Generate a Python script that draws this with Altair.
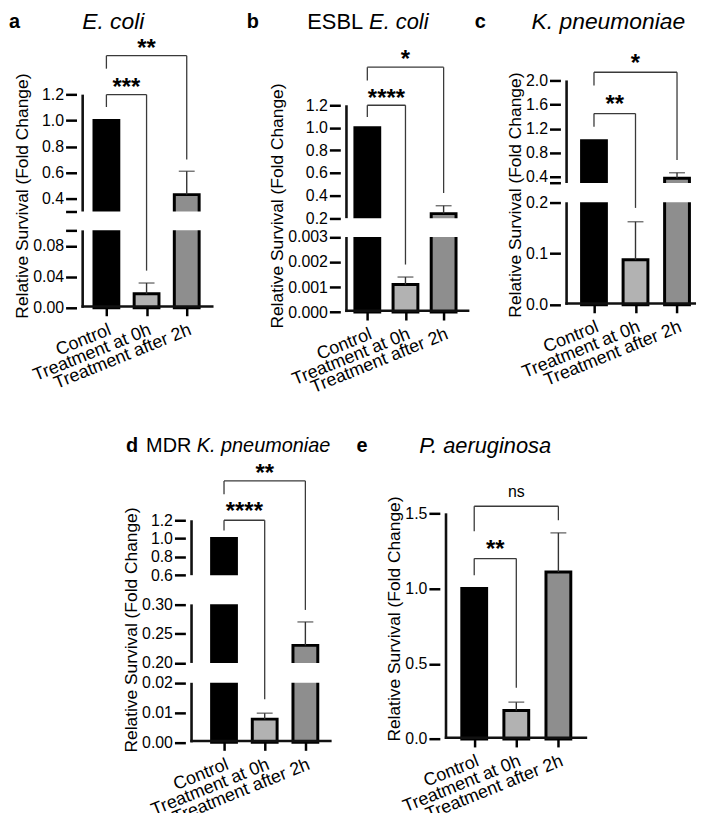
import altair as alt
import pandas as pd

FONT = "Liberation Sans"

categories = ["Control", "Treatment at 0h", "Treatment after 2h"]
positions = [1, 2, 3]
bar_fills = ["#000000", "#b2b2b2", "#8e8e8e"]
y_title = "Relative Survival (Fold Change)"

# ---------------- panel a : E. coli
a_mean = [1.0, 0.018, 0.43]
a_err = [None, 0.032, 0.61]
a_ticks = [0.0, 0.04, 0.08, 0.1, 0.3, 0.4, 0.6, 0.8, 1.0, 1.2]
a_tick_labels = ["0.00", "0.04", "0.08", "", "", "0.4", "0.6", "0.8", "1.0", "1.2"]
a_segments = [(0.0, 0.1), (0.3, 1.2)]
a_sig_g1 = [1, 1]
a_sig_g2 = [2, 3]
a_sig_bar = [1.2, 1.50]
a_sig_left = [1.105, 1.40]
a_sig_right = [0.048, 0.70]
a_sig_texty = [1.30, 1.60]
a_sig_text = ["***", "**"]

# ---------------- panel b : ESBL E. coli
b_mean = [1.0, 0.0011, 0.24]
b_err = [None, 0.0014, 0.31]
b_ticks = [0.0, 0.001, 0.002, 0.003, 0.2, 0.4, 0.6, 0.8, 1.0, 1.2]
b_tick_labels = ["0.000", "0.001", "0.002", "0.003", "0.2", "0.4", "0.6", "0.8", "1.0", "1.2"]
b_segments = [(0.0, 0.003), (0.2, 1.2)]
b_sig_g1 = [1, 1]
b_sig_g2 = [2, 3]
b_sig_bar = [1.2, 1.537]
b_sig_left = [1.097, 1.42]
b_sig_right = [0.0019, 0.423]
b_sig_texty = [1.31, 1.655]
b_sig_text = ["****", "*"]

# ---------------- panel c : K. pneumoniae
c_mean = [1.0, 0.088, 0.38]
c_err = [None, 0.162, 0.47]
c_ticks = [0.0, 0.1, 0.2, 0.3, 0.4, 0.8, 1.2, 1.6, 2.0]
c_tick_labels = ["0.0", "0.1", "0.2", "", "0.4", "0.8", "1.2", "1.6", "2.0"]
c_segments = [(0.0, 0.2), (0.3, 2.0)]
c_sig_g1 = [1, 1]
c_sig_g2 = [2, 3]
c_sig_bar = [1.451, 2.136]
c_sig_left = [1.231, 1.917]
c_sig_right = [0.189, 0.683]
c_sig_texty = [1.698, 2.366]
c_sig_text = ["**", "*"]

# ---------------- panel d : MDR K. pneumoniae
d_mean = [1.0, 0.0078, 0.23]
d_err = [None, 0.0098, 0.27]
d_ticks = [0.0, 0.01, 0.02, 0.2, 0.25, 0.3, 0.6, 0.8, 1.0, 1.2]
d_tick_labels = ["0.00", "0.01", "0.02", "0.20", "0.25", "0.30", "0.6", "0.8", "1.0", "1.2"]
d_segments = [(0.0, 0.02), (0.2, 0.3), (0.6, 1.2)]
d_sig_g1 = [1, 1]
d_sig_g2 = [2, 3]
d_sig_bar = [1.2, 1.63]
d_sig_left = [1.088, 1.485]
d_sig_right = [0.0145, 0.2905]
d_sig_texty = [1.359, 1.775]
d_sig_text = ["****", "**"]

# ---------------- panel e : P. aeruginosa
e_mean = [1.0, 0.19, 1.11]
e_err = [None, 0.245, 1.37]
e_ticks = [0.0, 0.5, 1.0, 1.5]
e_tick_labels = ["0.0", "0.5", "1.0", "1.5"]
e_segments = [(0.0, 1.5)]
e_sig_g1 = [1, 1]
e_sig_g2 = [2, 3]
e_sig_bar = [1.199, 1.547]
e_sig_left = [1.089, 1.38]
e_sig_right = [0.341, 1.454]
e_sig_texty = [1.298, 1.639]
e_sig_text = ["**", "ns"]

# panel headings: (text, style)
a_heading = [("E. coli", "italic")]
b_heading = [("ESBL", "normal"), ("E. coli", "italic")]
c_heading = [("K. pneumoniae", "italic")]
d_heading = [("MDR", "normal"), ("K. pneumoniae", "italic")]
e_heading = [("P. aeruginosa", "italic")]

# ---------------- layout (pixels, relative to each plot area)
LAYOUT = {
    "a": dict(W=178.3, Wvis=143, H=279, xdom=[0.3793, 3.667],
              ydom=[0, 0.1, 0.3, 1.2], yrng=[279, 201, 182, 64.3], ty=166,
              letter=(-62.5, -9), head=[(37, "center")], hsize=23),
    "b": dict(W=135, Wvis=135, H=283.3, xdom=[0.422, 3.675],
              ydom=[0, 0.003, 0.2, 1.2], yrng=[283.3, 207.7, 188.7, 75], ty=176,
              letter=(-88, -9), head=[(23, "right"), (29, "left")], hsize=22),
    "c": dict(W=141.6, Wvis=141.6, H=276, xdom=[0.311, 3.458],
              ydom=[0, 0.2, 0.3, 2.0], yrng=[276, 172.7, 153.3, 50], ty=165,
              letter=(-80.7, -9), head=[(48.3, "center")], hsize=23),
    "d": dict(W=152.3, Wvis=152.3, H=289.7, xdom=[0.172, 3.645],
              ydom=[0, 0.02, 0.2, 0.3, 0.6, 1.2],
              yrng=[289.7, 229.7, 209.7, 150.7, 121.3, 66], ty=176,
              letter=(-53.7, -9), head=[(6, "right"), (11.5, "left")], hsize=20),
    "e": dict(W=153.4, Wvis=153.4, H=286.3, xdom=[0.301, 3.684],
              ydom=[0, 1.5], yrng=[286.3, 59], ty=165,
              letter=(-78.3, -9), head=[(45.7, "center")], hsize=22),
}
AXIS_W = 2.6


def make_panel(letter, mean, err, ticks, tick_labels, segments,
               g1, g2, ybar, yl, yr, yt, txt, heading, L):
    xs = alt.Scale(domain=L["xdom"], range=[0, L["Wvis"]], nice=False, zero=False)
    ys = alt.Scale(domain=L["ydom"], range=L["yrng"], nice=False, zero=False)
    x_expr = "[" + ",".join("'" + c + "'" for c in categories) + "][datum.value - 1]"
    xaxis = alt.Axis(values=positions, labelExpr=x_expr, grid=False, domain=False,
                     tickSize=8, tickWidth=2.5, tickColor="black",
                     labelAngle=338, labelAlign="right", labelBaseline="top",
                     labelFontSize=18, labelColor="black", labelPadding=5,
                     labelOverlap=False, labelFlush=False, labelBound=False,
                     title=None)
    y_expr = ("[" + ",".join("'" + s + "'" for s in tick_labels) + "][indexof(["
              + ",".join(repr(float(v)) for v in ticks) + "], datum.value)]")
    yaxis = alt.Axis(values=ticks, labelExpr=y_expr, grid=False, domain=False,
                     tickSize=11, tickWidth=2.5, tickColor="black",
                     labelFontSize=16, labelColor="black", labelPadding=2,
                     labelOverlap=False, labelFlush=False,
                     title=y_title, titleFontSize=17.5, titleFontWeight="normal",
                     titleColor="black", titleY=L["ty"], titlePadding=1)

    def X(f):
        return alt.X(f, type="quantitative", scale=xs, axis=xaxis)

    def Y(f):
        return alt.Y(f, type="quantitative", scale=ys, axis=yaxis)

    bars_df = pd.DataFrame({"idx": positions, "cat": categories,
                            "mean": mean, "err": err})
    err_df = bars_df.dropna(subset=["err"])
    x0, x1 = L["xdom"]
    px_per_x = L["Wvis"] / (x1 - x0)
    hx = (AXIS_W / 2) / px_per_x
    px_per_y0 = (L["yrng"][0] - L["yrng"][1]) / (L["ydom"][1] - L["ydom"][0])
    hy = (AXIS_W / 2) / px_per_y0

    # white masks over the axis breaks
    gaps_df = pd.DataFrame({
        "lo": [segments[i][1] for i in range(len(segments) - 1)],
        "hi": [segments[i + 1][0] for i in range(len(segments) - 1)],
    })
    gaps_df["gx0"] = x0
    gaps_df["gx1"] = x1
    # y axis line pieces and x axis line
    vax_df = pd.DataFrame({"vlo": [s[0] for s in segments],
                           "vhi": [s[1] for s in segments]})
    vax_df["vx"] = x0 + hx
    hax_df = pd.DataFrame({"hx0": [x0], "hx1": [x1], "hy": [hy]})

    # bracket pieces as segments
    bx1, bx2, by1, by2 = [], [], [], []
    for i in range(len(g1)):
        bx1 += [g1[i], g1[i], g2[i]]
        bx2 += [g2[i], g1[i], g2[i]]
        by1 += [ybar[i], ybar[i], ybar[i]]
        by2 += [ybar[i], yl[i], yr[i]]
    br_df = pd.DataFrame({"bx1": bx1, "bx2": bx2, "by1": by1, "by2": by2})
    sig_df = pd.DataFrame({"x1": g1, "x2": g2, "yt": yt, "txt": txt})
    sig_df["xm"] = (sig_df["x1"] + sig_df["x2"]) / 2

    layers = []
    layers.append(alt.Chart(bars_df).mark_bar(
        size=25, stroke="black", strokeWidth=3, orient="vertical").encode(
        x=X("idx"), y=Y("mean"), y2=alt.datum(0),
        color=alt.Color("cat:N", scale=alt.Scale(domain=categories, range=bar_fills),
                        legend=None)))
    if len(gaps_df):
        layers.append(alt.Chart(gaps_df).mark_rect(color="white").encode(
            x=X("gx0"), x2="gx1", y=Y("lo"), y2="hi"))
    layers.append(alt.Chart(err_df).mark_rule(color="#333333", strokeWidth=1.4).encode(
        x=X("idx"), y=Y("mean"), y2="err"))
    layers.append(alt.Chart(err_df).mark_tick(
        orient="horizontal", size=16, thickness=1.4, color="#333333").encode(
        x=X("idx"), y=Y("err")))
    layers.append(alt.Chart(vax_df).mark_rule(color="#111111", strokeWidth=AXIS_W).encode(
        x=X("vx"), y=Y("vlo"), y2="vhi"))
    layers.append(alt.Chart(hax_df).mark_rule(color="#111111", strokeWidth=AXIS_W).encode(
        x=X("hx0"), x2="hx1", y=Y("hy")))
    layers.append(alt.Chart(br_df).mark_rule(color="#3a3a3a", strokeWidth=1.3).encode(
        x=X("bx1"), x2="bx2", y=Y("by1"), y2="by2"))
    layers.append(alt.Chart(sig_df).transform_filter("datum.txt != 'ns'").mark_text(
        font=FONT, fontSize=24, fontWeight="bold", baseline="middle", dy=6,
        color="black").encode(x=X("xm"), y=Y("yt"), text="txt:N"))
    layers.append(alt.Chart(sig_df).transform_filter("datum.txt == 'ns'").mark_text(
        font=FONT, fontSize=16, baseline="middle", color="black").encode(
        x=X("xm"), y=Y("yt"), text="txt:N"))
    # letter
    layers.append(alt.Chart(pd.DataFrame({"t": [letter]})).mark_text(
        font=FONT, fontSize=20, fontWeight="bold", baseline="middle", align="center",
        color="black").encode(x=alt.value(L["letter"][0]), y=alt.value(L["letter"][1]),
                              text="t:N"))
    for (text, style), (hx_, align) in zip(heading, L["head"]):
        layers.append(alt.Chart(pd.DataFrame({"t": [text]})).mark_text(
            font=FONT, fontSize=L["hsize"], fontStyle=style, baseline="middle",
            align=align, color="black").encode(
            x=alt.value(hx_), y=alt.value(L["letter"][1]), text="t:N"))
    return alt.layer(*layers).properties(width=L["W"], height=L["H"])


pa = make_panel("a", a_mean, a_err, a_ticks, a_tick_labels, a_segments, a_sig_g1,
                a_sig_g2, a_sig_bar, a_sig_left, a_sig_right, a_sig_texty, a_sig_text,
                a_heading, LAYOUT["a"])
pb = make_panel("b", b_mean, b_err, b_ticks, b_tick_labels, b_segments, b_sig_g1,
                b_sig_g2, b_sig_bar, b_sig_left, b_sig_right, b_sig_texty, b_sig_text,
                b_heading, LAYOUT["b"])
pc = make_panel("c", c_mean, c_err, c_ticks, c_tick_labels, c_segments, c_sig_g1,
                c_sig_g2, c_sig_bar, c_sig_left, c_sig_right, c_sig_texty, c_sig_text,
                c_heading, LAYOUT["c"])
pdd = make_panel("d", d_mean, d_err, d_ticks, d_tick_labels, d_segments, d_sig_g1,
                 d_sig_g2, d_sig_bar, d_sig_left, d_sig_right, d_sig_texty, d_sig_text,
                 d_heading, LAYOUT["d"])
pe = make_panel("e", e_mean, e_err, e_ticks, e_tick_labels, e_segments, e_sig_g1,
                e_sig_g2, e_sig_bar, e_sig_left, e_sig_right, e_sig_texty, e_sig_text,
                e_heading, LAYOUT["e"])

row1 = alt.hconcat(pa, pb, pc, spacing=86.7, bounds="flush")
row2 = alt.hconcat(pdd, pe, spacing=103.3, bounds="flush")

chart = alt.vconcat(row1, row2, spacing=38, center=True).properties(
    padding=0
).configure_view(stroke=None).configure_axis(labelFont=FONT, titleFont=FONT)

chart.save("out.html", embed_options={"renderer": "svg", "actions": False})
